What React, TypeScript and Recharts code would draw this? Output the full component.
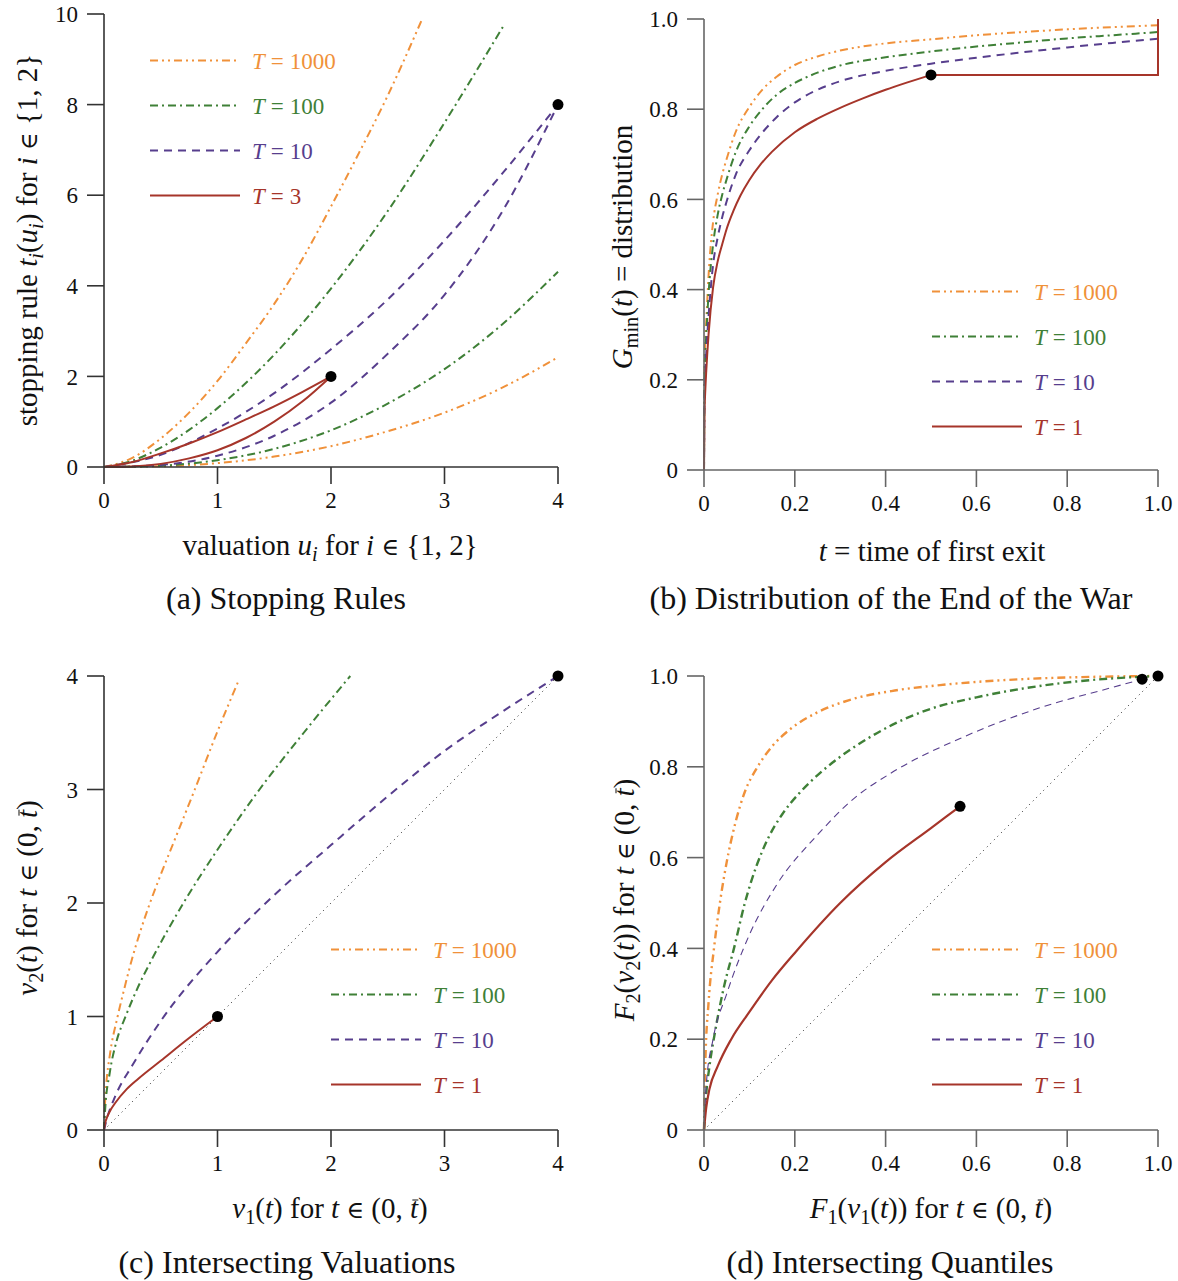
import React from 'react';
import { ComposedChart, Line, XAxis, YAxis, Legend } from 'recharts';

const FONT = '"Liberation Serif", "Times New Roman", serif';
const ORANGE = '#F0913A';
const GREEN = '#3F8037';
const PURPLE = '#573E8D';
const RED = '#A6352A';
const DASH_1000 = '8 4 2 4 2 4';
const DASH_100 = '8 4 2 4';
const DASH_10 = '8 6';

type P = [number, number];

// ---------- Panel (a) Stopping Rules ----------
const aXTicks = [0, 1, 2, 3, 4];
const aYTicks = [0, 2, 4, 6, 8, 10];
const aLegendValues = ['1000', '100', '10', '3'];
const aT1000Upper: P[] = [[0, 0], [0.25, 0.2], [0.5, 0.63], [0.75, 1.2], [1, 1.9], [1.25, 2.73], [1.5, 3.6], [1.75, 4.6], [2, 5.75], [2.25, 6.95], [2.5, 8.2], [2.8, 9.87]];
const aT1000Lower: P[] = [[0, 0], [0.5, 0.016], [1, 0.085], [1.5, 0.23], [2, 0.46], [2.5, 0.79], [3, 1.2], [3.5, 1.74], [4, 2.42]];
const aT100Upper: P[] = [[0, 0], [0.25, 0.14], [0.5, 0.43], [0.75, 0.82], [1, 1.3], [1.5, 2.48], [2, 3.94], [2.5, 5.65], [3, 7.6], [3.52, 9.74]];
const aT100Lower: P[] = [[0, 0], [0.5, 0.03], [1, 0.15], [1.5, 0.4], [2, 0.81], [2.5, 1.4], [3, 2.16], [3.5, 3.13], [4, 4.31]];
const aT10Upper: P[] = [[0, 0], [0.5, 0.27], [1, 0.85], [1.5, 1.63], [2, 2.6], [2.5, 3.7], [3, 5.0], [3.5, 6.45], [4, 8]];
const aT10Lower: P[] = [[0, 0], [0.5, 0.045], [1, 0.25], [1.5, 0.69], [2, 1.42], [2.5, 2.5], [3, 3.8], [3.5, 5.6], [4, 8]];
const aT3Upper: P[] = [[0, 0], [0.25, 0.11], [0.5, 0.3], [0.75, 0.52], [1, 0.77], [1.25, 1.05], [1.5, 1.34], [1.75, 1.66], [2, 2]];
const aT3Lower: P[] = [[0, 0], [0.25, 0.013], [0.5, 0.069], [0.75, 0.19], [1, 0.37], [1.25, 0.64], [1.5, 1.0], [1.75, 1.45], [2, 2]];
const aDots: P[] = [[2, 2], [4, 8]];

// ---------- Panel (b) Distribution of the End of the War ----------
const bXTicks = [0, 0.2, 0.4, 0.6, 0.8, 1.0];
const bYTicks = [0, 0.2, 0.4, 0.6, 0.8, 1.0];
const bLegendValues = ['1000', '100', '10', '1'];
const bT1000: P[] = [[0, 0], [0.001, 0.22], [0.003, 0.29], [0.005, 0.33], [0.01, 0.43], [0.02, 0.55], [0.03, 0.61], [0.04, 0.655], [0.05, 0.69], [0.07, 0.75], [0.1, 0.805], [0.13, 0.845], [0.16, 0.872], [0.2, 0.898], [0.25, 0.917], [0.3, 0.93], [0.4, 0.946], [0.5, 0.955], [0.6, 0.964], [0.7, 0.971], [0.8, 0.977], [0.9, 0.982], [1, 0.986]];
const bT100: P[] = [[0, 0], [0.001, 0.19], [0.003, 0.26], [0.005, 0.3], [0.01, 0.39], [0.02, 0.5], [0.03, 0.565], [0.04, 0.61], [0.05, 0.645], [0.07, 0.705], [0.1, 0.762], [0.13, 0.802], [0.16, 0.832], [0.2, 0.858], [0.25, 0.881], [0.3, 0.897], [0.4, 0.915], [0.5, 0.928], [0.6, 0.939], [0.7, 0.948], [0.8, 0.957], [0.9, 0.964], [1, 0.971]];
const bT10: P[] = [[0, 0], [0.001, 0.16], [0.003, 0.22], [0.005, 0.26], [0.01, 0.34], [0.02, 0.455], [0.03, 0.515], [0.04, 0.56], [0.05, 0.596], [0.07, 0.655], [0.1, 0.709], [0.13, 0.75], [0.16, 0.782], [0.2, 0.815], [0.25, 0.843], [0.3, 0.862], [0.4, 0.885], [0.5, 0.901], [0.6, 0.914], [0.7, 0.926], [0.8, 0.937], [0.9, 0.947], [1, 0.956]];
const bT1Curve: P[] = [[0, 0], [0.001, 0.12], [0.003, 0.18], [0.005, 0.22], [0.01, 0.3], [0.02, 0.405], [0.03, 0.462], [0.04, 0.5], [0.05, 0.535], [0.065, 0.575], [0.08, 0.608], [0.1, 0.643], [0.125, 0.678], [0.15, 0.706], [0.2, 0.749], [0.25, 0.779], [0.3, 0.803], [0.35, 0.824], [0.4, 0.843], [0.45, 0.86], [0.5, 0.876]];
const bT1Step: P[] = [[0.5, 0.876], [1, 0.876], [1, 1]];
const bDots: P[] = [[0.5, 0.876]];

// ---------- Panel (c) Intersecting Valuations ----------
const cXTicks = [0, 1, 2, 3, 4];
const cYTicks = [0, 1, 2, 3, 4];
const cLegendValues = ['1000', '100', '10', '1'];
const cT1000: P[] = [[0, 0], [0.005, 0.15], [0.02, 0.4], [0.05, 0.65], [0.12, 1.0], [0.18, 1.25], [0.245, 1.5], [0.32, 1.75], [0.405, 2.0], [0.5, 2.25], [0.6, 2.5], [0.8, 3.0], [0.995, 3.5], [1.19, 3.97]];
const cT100: P[] = [[0, 0], [0.01, 0.18], [0.05, 0.5], [0.11, 0.78], [0.19, 1.0], [0.3, 1.26], [0.42, 1.5], [0.7, 2.0], [1.02, 2.5], [1.37, 3.0], [1.76, 3.5], [2.17, 4.0]];
const cT10: P[] = [[0, 0], [0.02, 0.08], [0.1, 0.3], [0.25, 0.57], [0.5, 0.96], [1, 1.57], [1.5, 2.07], [2, 2.51], [2.5, 2.94], [3, 3.34], [3.5, 3.68], [4, 4]];
const cT1: P[] = [[0, 0], [0.01, 0.06], [0.03, 0.12], [0.06, 0.18], [0.1, 0.24], [0.2, 0.36], [0.3, 0.45], [0.5, 0.61], [0.75, 0.81], [1, 1]];
const cDiag: P[] = [[0, 0], [4, 4]];
const cDots: P[] = [[1, 1], [4, 4]];

// ---------- Panel (d) Intersecting Quantiles ----------
const dXTicks = [0, 0.2, 0.4, 0.6, 0.8, 1.0];
const dYTicks = [0, 0.2, 0.4, 0.6, 0.8, 1.0];
const dLegendValues = ['1000', '100', '10', '1'];
const dT1000: P[] = [[0, 0], [0.003, 0.15], [0.01, 0.28], [0.022, 0.4], [0.035, 0.5], [0.05, 0.59], [0.07, 0.68], [0.09, 0.745], [0.115, 0.795], [0.15, 0.845], [0.19, 0.883], [0.25, 0.92], [0.32, 0.947], [0.42, 0.968], [0.52, 0.98], [0.7, 0.993], [0.85, 0.998], [1, 1]];
const dT100: P[] = [[0, 0], [0.005, 0.08], [0.012, 0.14], [0.025, 0.22], [0.045, 0.32], [0.066, 0.4], [0.09, 0.5], [0.115, 0.58], [0.14, 0.64], [0.172, 0.695], [0.21, 0.742], [0.254, 0.785], [0.3, 0.822], [0.36, 0.862], [0.42, 0.895], [0.5, 0.928], [0.6, 0.953], [0.7, 0.972], [0.82, 0.988], [1, 1]];
const dT10: P[] = [[0, 0], [0.005, 0.1], [0.02, 0.2], [0.05, 0.3], [0.1, 0.43], [0.16, 0.54], [0.25, 0.65], [0.33, 0.73], [0.41, 0.785], [0.57, 0.865], [0.74, 0.93], [0.9, 0.975], [0.965, 0.993]];
const dT1: P[] = [[0, 0], [0.005, 0.05], [0.012, 0.09], [0.03, 0.14], [0.06, 0.2], [0.1, 0.26], [0.15, 0.33], [0.2, 0.39], [0.3, 0.5], [0.4, 0.59], [0.5, 0.665], [0.564, 0.713]];
const dDiag: P[] = [[0, 0], [1, 1]];
const dDots: P[] = [[0.564, 0.713], [0.965, 0.993], [1, 1]];

const toPts = (arr: P[]) => arr.map(([x, y]) => ({ x, y }));
const fmtInt = (v: number) => String(v);
const fmtDec = (v: number) => (v === 0 ? '0' : v.toFixed(1));

type Series = { pts: P[]; color: string; dash?: string; width: number; curve?: 'monotone' | 'linear' };

interface PanelProps {
  left: number;
  top: number;
  width: number;
  height: number;
  margin: { top: number; right: number; bottom: number; left: number };
  xDomain: [number, number];
  yDomain: [number, number];
  xTicks: number[];
  yTicks: number[];
  fmt: (v: number) => string;
  series: Series[];
  dots: P[];
  axisColor: string;
  legendValues: string[];
  legendPos: { left: number; top: number };
}

const LEGEND_STYLES = [
  { color: ORANGE, dash: DASH_1000 },
  { color: GREEN, dash: DASH_100 },
  { color: PURPLE, dash: DASH_10 },
  { color: RED, dash: undefined as string | undefined },
];

function LegendBox({ values }: { values: string[] }) {
  return (
    <svg width={260} height={180} style={{ overflow: 'visible', display: 'block' }}>
      {values.map((v, i) => {
        const st = LEGEND_STYLES[i];
        const y = 22.5 + 45 * i;
        return (
          <g key={i}>
            <line x1={0} x2={90} y1={y} y2={y} stroke={st.color} strokeWidth={2} strokeDasharray={st.dash} />
            <text x={102} y={y + 8} fill={st.color} fontFamily={FONT} fontSize={23}>
              <tspan fontStyle="italic">T</tspan>
              <tspan dx={6}>=</tspan>
              <tspan dx={6}>{v}</tspan>
            </text>
          </g>
        );
      })}
    </svg>
  );
}

function Panel(p: PanelProps) {
  const axisLine = { stroke: p.axisColor, strokeWidth: 1.6 };
  const tick = { fill: '#111', fontSize: 23, fontFamily: FONT };
  return (
    <div style={{ position: 'absolute', left: p.left, top: p.top }}>
      <ComposedChart width={p.width} height={p.height} margin={p.margin}>
        <XAxis
          type="number"
          dataKey="x"
          domain={p.xDomain}
          ticks={p.xTicks}
          tickFormatter={p.fmt}
          interval={0}
          tickSize={17}
          tickMargin={8}
          axisLine={axisLine}
          tickLine={axisLine}
          tick={tick}
          height={50}
        />
        <YAxis
          type="number"
          dataKey="y"
          domain={p.yDomain}
          ticks={p.yTicks}
          tickFormatter={p.fmt}
          interval={0}
          tickSize={17}
          tickMargin={9}
          axisLine={axisLine}
          tickLine={axisLine}
          tick={tick}
          width={104}
        />
        {p.series.map((s, i) => (
          <Line
            key={i}
            data={toPts(s.pts)}
            dataKey="y"
            type={s.curve ?? 'monotone'}
            stroke={s.color}
            strokeWidth={s.width}
            strokeDasharray={s.dash}
            dot={false}
            activeDot={false}
            isAnimationActive={false}
          />
        ))}
        <Line
          data={toPts(p.dots)}
          dataKey="y"
          type="linear"
          stroke="none"
          strokeWidth={0}
          dot={{ r: 5.5, fill: '#000', stroke: 'none' }}
          activeDot={false}
          isAnimationActive={false}
        />
        <Legend
          layout="vertical"
          align="center"
          verticalAlign="middle"
          wrapperStyle={{ left: p.legendPos.left, top: p.legendPos.top, width: 260, height: 180 }}
          content={() => <LegendBox values={p.legendValues} />}
        />
      </ComposedChart>
    </div>
  );
}

const Sub = ({ children }: { children: React.ReactNode }) => (
  <sub style={{ fontSize: '0.7em', verticalAlign: '-0.3em', lineHeight: 0 }}>{children}</sub>
);
const I = ({ children }: { children: React.ReactNode }) => <i>{children}</i>;
const In = () => <span style={{ fontSize: '0.82em', fontFamily: '"DejaVu Serif", serif' }}>∈</span>;
const Ov = ({ children }: { children: React.ReactNode }) => (
  <span style={{ position: 'relative', display: 'inline-block' }}>
    <i>{children}</i>
    <span style={{ position: 'absolute', left: '0.1em', right: '-0.02em', top: '0.2em', borderTop: '1.5px solid #111' }} />
  </span>
);

function Txt({ x, y, size, rotate, children }: { x: number; y: number; size: number; rotate?: boolean; children: React.ReactNode }) {
  return (
    <div
      style={{
        position: 'absolute',
        left: x,
        top: y,
        transform: `translate(-50%, -50%)${rotate ? ' rotate(-90deg)' : ''}`,
        whiteSpace: 'nowrap',
        fontSize: size,
        fontFamily: FONT,
        color: '#111',
        lineHeight: 1,
      }}
    >
      {children}
    </div>
  );
}

const TITLE = 29;
const CAP = 32;

export default function App() {
  return (
    <div style={{ position: 'absolute', left: 0, top: 0, width: 1178, height: 1281, background: '#fff', overflow: 'hidden' }}>
      <Panel
        left={0}
        top={0}
        width={600}
        height={520}
        margin={{ top: 14, right: 42, bottom: 3, left: 0 }}
        xDomain={[0, 4]}
        yDomain={[0, 10]}
        xTicks={aXTicks}
        yTicks={aYTicks}
        fmt={fmtInt}
        axisColor="#333"
        series={[
          { pts: aT1000Upper, color: ORANGE, dash: DASH_1000, width: 2 },
          { pts: aT1000Lower, color: ORANGE, dash: DASH_1000, width: 2 },
          { pts: aT100Upper, color: GREEN, dash: DASH_100, width: 2 },
          { pts: aT100Lower, color: GREEN, dash: DASH_100, width: 2 },
          { pts: aT10Upper, color: PURPLE, dash: DASH_10, width: 2 },
          { pts: aT10Lower, color: PURPLE, dash: DASH_10, width: 2 },
          { pts: aT3Upper, color: RED, width: 2 },
          { pts: aT3Lower, color: RED, width: 2 },
        ]}
        dots={aDots}
        legendValues={aLegendValues}
        legendPos={{ left: 150, top: 37.5 }}
      />
      <Panel
        left={600}
        top={0}
        width={600}
        height={520}
        margin={{ top: 19, right: 42, bottom: 0, left: 0 }}
        xDomain={[0, 1]}
        yDomain={[0, 1]}
        xTicks={bXTicks}
        yTicks={bYTicks}
        fmt={fmtDec}
        axisColor="#666"
        series={[
          { pts: bT1000, color: ORANGE, dash: DASH_1000, width: 2 },
          { pts: bT100, color: GREEN, dash: DASH_100, width: 2 },
          { pts: bT10, color: PURPLE, dash: DASH_10, width: 2 },
          { pts: bT1Curve, color: RED, width: 2 },
          { pts: bT1Step, color: RED, width: 2, curve: 'linear' },
        ]}
        dots={bDots}
        legendValues={bLegendValues}
        legendPos={{ left: 332, top: 268.5 }}
      />
      <Panel
        left={0}
        top={640}
        width={600}
        height={560}
        margin={{ top: 36, right: 42, bottom: 20, left: 0 }}
        xDomain={[0, 4]}
        yDomain={[0, 4]}
        xTicks={cXTicks}
        yTicks={cYTicks}
        fmt={fmtInt}
        axisColor="#333"
        series={[
          { pts: cDiag, color: '#222', dash: '1 4', width: 1, curve: 'linear' },
          { pts: cT1000, color: ORANGE, dash: DASH_1000, width: 2 },
          { pts: cT100, color: GREEN, dash: DASH_100, width: 2 },
          { pts: cT10, color: PURPLE, dash: DASH_10, width: 2 },
          { pts: cT1, color: RED, width: 2 },
        ]}
        dots={cDots}
        legendValues={cLegendValues}
        legendPos={{ left: 331, top: 286.5 }}
      />
      <Panel
        left={600}
        top={640}
        width={600}
        height={560}
        margin={{ top: 36, right: 42, bottom: 20, left: 0 }}
        xDomain={[0, 1]}
        yDomain={[0, 1]}
        xTicks={dXTicks}
        yTicks={dYTicks}
        fmt={fmtDec}
        axisColor="#666"
        series={[
          { pts: dDiag, color: '#222', dash: '1 4', width: 1, curve: 'linear' },
          { pts: dT1000, color: ORANGE, dash: DASH_1000, width: 2.4 },
          { pts: dT100, color: GREEN, dash: DASH_100, width: 2.4 },
          { pts: dT10, color: PURPLE, dash: '7 5', width: 1.1 },
          { pts: dT1, color: RED, width: 2.2 },
        ]}
        dots={dDots}
        legendValues={dLegendValues}
        legendPos={{ left: 332, top: 286.5 }}
      />

      {/* Panel (a) titles */}
      <Txt x={27} y={240} size={TITLE} rotate>
        stopping rule <I>t</I><Sub><I>i</I></Sub>(<I>u</I><Sub><I>i</I></Sub>) for <I>i</I> <In /> {'{'}1, 2{'}'}
      </Txt>
      <Txt x={330} y={545} size={TITLE}>
        valuation <I>u</I><Sub><I>i</I></Sub> for <I>i</I> <In /> {'{'}1, 2{'}'}
      </Txt>
      <Txt x={286} y={598} size={CAP}>(a) Stopping Rules</Txt>

      {/* Panel (b) titles */}
      <Txt x={622} y={247} size={TITLE} rotate>
        <I>G</I><Sub>min</Sub>(<I>t</I>) = distribution
      </Txt>
      <Txt x={932} y={551} size={TITLE}>
        <I>t</I> = time of first exit
      </Txt>
      <Txt x={891} y={598} size={CAP}>(b) Distribution of the End of the War</Txt>

      {/* Panel (c) titles */}
      <Txt x={27} y={898} size={TITLE} rotate>
        <I>v</I><Sub>2</Sub>(<I>t</I>) for <I>t</I> <In /> (0, <Ov>t</Ov>)
      </Txt>
      <Txt x={330} y={1208} size={TITLE}>
        <I>v</I><Sub>1</Sub>(<I>t</I>) for <I>t</I> <In /> (0, <Ov>t</Ov>)
      </Txt>
      <Txt x={287} y={1262} size={CAP}>(c) Intersecting Valuations</Txt>

      {/* Panel (d) titles */}
      <Txt x={624} y={900} size={TITLE} rotate>
        <I>F</I><Sub>2</Sub>(<I>v</I><Sub>2</Sub>(<I>t</I>)) for <I>t</I> <In /> (0, <Ov>t</Ov>)
      </Txt>
      <Txt x={931} y={1208} size={TITLE}>
        <I>F</I><Sub>1</Sub>(<I>v</I><Sub>1</Sub>(<I>t</I>)) for <I>t</I> <In /> (0, <Ov>t</Ov>)
      </Txt>
      <Txt x={890} y={1262} size={CAP}>(d) Intersecting Quantiles</Txt>
    </div>
  );
}
